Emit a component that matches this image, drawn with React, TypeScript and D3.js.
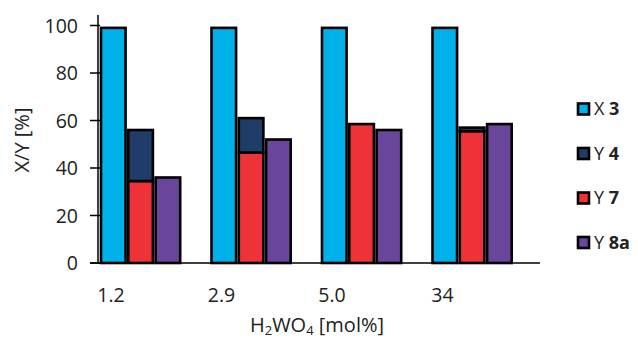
import * as d3 from "d3";
import { useEffect, useRef } from "react";

// data
const categories = ["1.2", "2.9", "5.0", "34"];
const x3 = [99, 99, 99, 99];
const y4 = [21.5, 14.5, 0, 1.5];
const y7 = [34.5, 46.5, 58.5, 55.5];
const y8a = [36, 52, 56, 58.5];
const yTicks = [0, 20, 40, 60, 80, 100];
const legendItems = [
  { label: "X ", bold: "3", color: "#00b0e8" },
  { label: "Y ", bold: "4", color: "#1f3d68" },
  { label: "Y ", bold: "7", color: "#ee3338" },
  { label: "Y ", bold: "8a", color: "#6a459c" },
];

const App: React.FC = () => {
  const ref = useRef<SVGSVGElement | null>(null);

  useEffect(() => {
    const width = 638;
    const height = 342;
    const margin = { top: 25.5, left: 98, bottom: 263, right: 540 };
    const font = "'Open Sans', sans-serif";
    const textColor = "#222";

    const svg = d3.select(ref.current);
    svg.selectAll("*").remove();

    const xScale = d3
      .scaleBand()
      .domain(categories)
      .range([margin.left, margin.right]);
    const slot = d3
      .scaleBand()
      .domain(["x3", "y47", "y8a", "empty"])
      .range([3, xScale.bandwidth() - 1])
      .paddingInner(0.1);
    const yScale = d3
      .scaleLinear()
      .domain([0, 100])
      .range([margin.bottom, margin.top]);

    const stroke = "#000";
    const sw = 2.6;

    const g = svg.append("g");

    // Draw bars
    categories.forEach((c, i) => {
      const x0 = xScale(c) || 0;
      const drawRect = (key: string, lo: number, hi: number, fill: string) => {
        if (hi - lo <= 0) return;
        g.append("rect")
          .attr("x", x0 + (slot(key) || 0))
          .attr("y", yScale(hi))
          .attr("width", slot.bandwidth())
          .attr("height", yScale(lo) - yScale(hi))
          .attr("fill", fill)
          .attr("stroke", stroke)
          .attr("stroke-width", sw);
      };
      drawRect("x3", 0, x3[i], legendItems[0].color);
      drawRect("y47", 0, y7[i], legendItems[2].color);
      drawRect("y47", y7[i], y7[i] + y4[i], legendItems[1].color);
      drawRect("y8a", 0, y8a[i], legendItems[3].color);
    });

    // Axes
    svg
      .append("line")
      .attr("x1", margin.left)
      .attr("x2", margin.left)
      .attr("y1", 15)
      .attr("y2", margin.bottom)
      .attr("stroke", stroke)
      .attr("stroke-width", 1.5);
    svg
      .append("line")
      .attr("x1", margin.left - 8)
      .attr("x2", margin.right)
      .attr("y1", margin.bottom)
      .attr("y2", margin.bottom)
      .attr("stroke", stroke)
      .attr("stroke-width", 1.5);

    yTicks.forEach((t) => {
      svg
        .append("line")
        .attr("x1", margin.left - 8)
        .attr("x2", margin.left + 2)
        .attr("y1", yScale(t))
        .attr("y2", yScale(t))
        .attr("stroke", stroke)
        .attr("stroke-width", 1.5);
      svg
        .append("text")
        .attr("x", 78)
        .attr("y", yScale(t))
        .attr("dy", "0.36em")
        .attr("text-anchor", "end")
        .attr("font-family", font)
        .attr("font-size", 19.5)
        .attr("fill", textColor)
        .text(t);
    });

    categories.forEach((c) => {
      svg
        .append("text")
        .attr("x", (xScale(c) || 0) + 13)
        .attr("y", 302)
        .attr("text-anchor", "middle")
        .attr("font-family", font)
        .attr("font-size", 19.5)
        .attr("fill", textColor)
        .text(c);
    });

    // Axis titles
    svg
      .append("text")
      .attr("transform", "translate(29, 140) rotate(-90)")
      .attr("text-anchor", "middle")
      .attr("font-family", font)
      .attr("font-size", 20)
      .attr("fill", textColor)
      .text("X/Y [%]");

    const xt = svg
      .append("text")
      .attr("x", 317)
      .attr("y", 332)
      .attr("text-anchor", "middle")
      .attr("font-family", font)
      .attr("font-size", 20)
      .attr("fill", textColor);
    xt.append("tspan").text("H");
    xt.append("tspan").attr("font-size", 13).attr("dy", 3).text("2");
    xt.append("tspan").attr("dy", -3).text("WO");
    xt.append("tspan").attr("font-size", 13).attr("dy", 3).text("4");
    xt.append("tspan").attr("dy", -3).text(" [mol%]");

    // Legend
    legendItems.forEach((d, i) => {
      const cy = 109 + i * 44.5;
      svg
        .append("rect")
        .attr("x", 578)
        .attr("y", cy - 5.5)
        .attr("width", 11)
        .attr("height", 11)
        .attr("fill", d.color)
        .attr("stroke", stroke)
        .attr("stroke-width", 2.6);
      const t = svg
        .append("text")
        .attr("x", 594)
        .attr("y", cy)
        .attr("dy", "0.36em")
        .attr("font-family", font)
        .attr("font-size", 18)
        .attr("fill", textColor);
      t.append("tspan").text(d.label);
      t.append("tspan").attr("font-weight", "bold").text(d.bold);
    });

    svg.attr("width", width).attr("height", height);
  }, []);

  return (
    <svg
      ref={ref}
      width={638}
      height={342}
      style={{ position: "absolute", left: 0, top: 0, background: "#fff" }}
    />
  );
};

export default App;
